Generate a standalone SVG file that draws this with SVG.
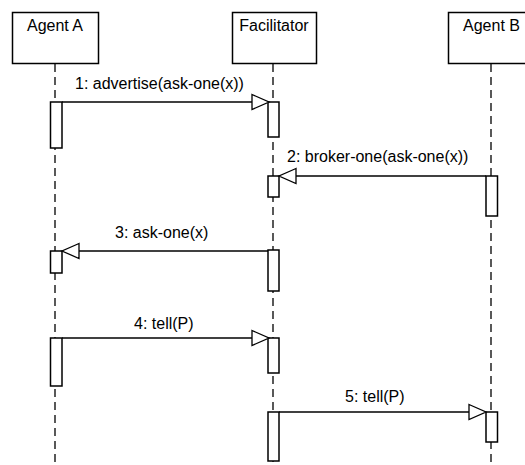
<svg xmlns="http://www.w3.org/2000/svg" width="525" height="465" viewBox="0 0 525 465">
<style>
.box{fill:#fff;stroke:#000;stroke-width:1.5}
.life{stroke:#000;stroke-width:1.3;stroke-dasharray:8,5;fill:none}
.act{fill:#fff;stroke:#000;stroke-width:1.5}
.msg{stroke:#000;stroke-width:1.3;fill:none}
.head{fill:#fff;stroke:#000;stroke-width:1.3}
text{font-family:"Liberation Sans",Arial,sans-serif;font-size:16px;fill:#000}
.t{text-anchor:middle}
</style>
<rect width="525" height="465" fill="#fff"/>
<g id="agentA">
<rect class="box" x="12.5" y="12.5" width="86" height="51"/>
<text class="t" x="55" y="31">Agent A</text>
<line class="life" x1="55" y1="64" x2="55" y2="465"/>
</g>
<g id="facilitator">
<rect class="box" x="232.5" y="12.5" width="84" height="51"/>
<text class="t" x="274" y="31">Facilitator</text>
<line class="life" x1="273" y1="64" x2="273" y2="465"/>
</g>
<g id="agentB">
<rect class="box" x="448.5" y="12.5" width="85" height="51"/>
<text class="t" x="491.5" y="31">Agent B</text>
<line class="life" x1="491" y1="64" x2="491" y2="465"/>
</g>
<g id="activations">
<rect class="act" x="50.5" y="102" width="11.5" height="46"/>
<rect class="act" x="268" y="102" width="11" height="35"/>
<rect class="act" x="268" y="176" width="11" height="21"/>
<rect class="act" x="486" y="176" width="11.5" height="40"/>
<rect class="act" x="50.5" y="251" width="11.5" height="22"/>
<rect class="act" x="268" y="250" width="11" height="41"/>
<rect class="act" x="50.5" y="338" width="11.5" height="48"/>
<rect class="act" x="268" y="338" width="11" height="35"/>
<rect class="act" x="268" y="412" width="11" height="49"/>
<rect class="act" x="486" y="412" width="11.5" height="30"/>
</g>
<g id="connectors">
<line class="msg" x1="62" y1="102" x2="252" y2="102"/>
<polygon class="head" points="252,94.5 269,102 252,109.5"/>
<text x="75" y="89">1: advertise(ask-one(x))</text>
<line class="msg" x1="486" y1="176" x2="296" y2="176"/>
<polygon class="head" points="296,168.5 279,176 296,183.5"/>
<text x="287" y="162">2: broker-one(ask-one(x))</text>
<line class="msg" x1="268" y1="251" x2="79" y2="251"/>
<polygon class="head" points="79,243.5 62,251 79,258.5"/>
<text x="115" y="238">3: ask-one(x)</text>
<line class="msg" x1="62" y1="338" x2="252" y2="338"/>
<polygon class="head" points="252,330.5 269,338 252,345.5"/>
<text x="134" y="329">4: tell(P)</text>
<line class="msg" x1="279" y1="412" x2="469" y2="412"/>
<polygon class="head" points="469,404.5 486,412 469,419.5"/>
<text x="345" y="402">5: tell(P)</text>
</g>
</svg>
